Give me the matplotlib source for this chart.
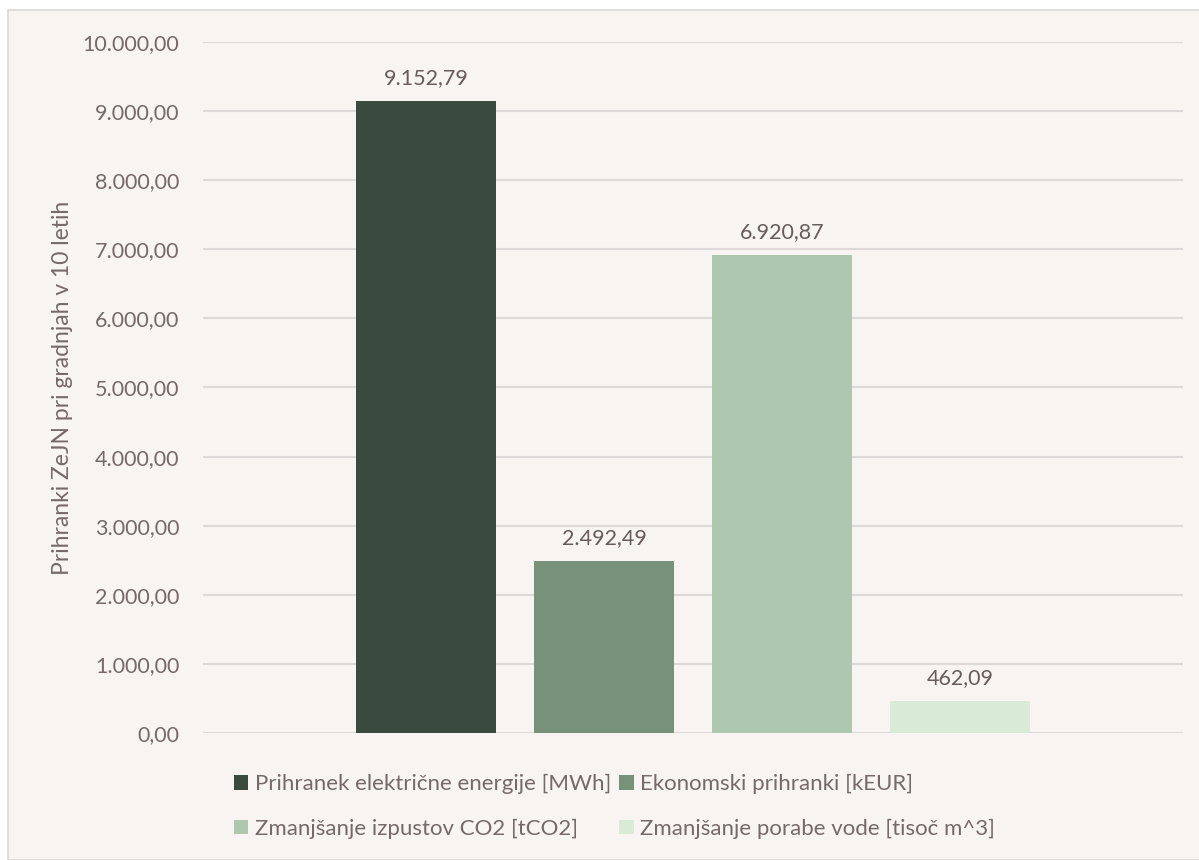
import matplotlib.pyplot as plt
from matplotlib.patches import Rectangle, Patch

# podatki
series = ['Prihranek električne energije [MWh]', 'Ekonomski prihranki [kEUR]',
          'Zmanjšanje izpustov CO2 [tCO2]', 'Zmanjšanje porabe vode [tisoč m^3]']
values = [9152.79, 2492.49, 6920.87, 462.09]
colors = ['#3B4A3F', '#78917B', '#AEC8AF', '#D9EBD6']
yticks = [0, 1000, 2000, 3000, 4000, 5000, 6000, 7000, 8000, 9000, 10000]

bg = '#F8F4F1'
txt = '#76696A'

def fmt(v):
    # slovenski zapis: 1.234,56
    return f'{v:,.2f}'.replace(',', 'X').replace('.', ',').replace('X', '.')

plt.rcParams['font.family'] = ['Lato', 'DejaVu Sans']

W, H = 1199, 860
fig = plt.figure(figsize=(W / 100, H / 100), dpi=100)
fig.patch.set_facecolor('white')
fig.patches.append(Rectangle((8 / W, 0), 1, 1 - 10 / H, transform=fig.transFigure,
                             facecolor=bg, edgecolor='#DCD8D5', linewidth=1.2, zorder=-10))

ax = fig.add_axes([203 / W, 1 - 733 / H, 980 / W, 691 / H])
ax.set_facecolor(bg)
ax.patch.set_alpha(0)

x = range(len(values))
ax.bar(x, values, width=0.787, color=colors, zorder=3)
for i, v in enumerate(values):
    ax.annotate(fmt(v), (i, v), xytext=(0, 9), textcoords='offset points',
                ha='center', va='bottom', fontsize=15.5, color='#675B5C')

ax.set_xlim(-1.253, 4.253)
ax.set_ylim(0, 10000)
ax.set_yticks(yticks)
ax.set_yticklabels([fmt(t) for t in yticks], fontsize=15.5, color=txt)
ax.set_xticks([])
ax.tick_params(axis='y', length=0, pad=17)
ax.grid(axis='y', color='#DDD9D8', linewidth=1.5, zorder=0)
for s in ax.spines.values():
    s.set_visible(False)
ax.set_ylabel('Prihranki ZeJN pri gradnjah v 10 letih', fontsize=16.5, color=txt, labelpad=7)

handles = [Patch(facecolor=c, label=s) for c, s in zip(colors, series)]
order = [0, 2, 1, 3]
fig.legend([handles[i] for i in order], [series[i] for i in order], ncol=2,
           loc='upper left', bbox_to_anchor=(234 / W, 1 - 774 / H), frameon=False,
           borderpad=0, borderaxespad=0,
           fontsize=16, labelcolor=txt, handlelength=0.65, handleheight=0.65,
           handletextpad=0.3, columnspacing=0.35, labelspacing=1.1)

fig.savefig('out.png', dpi=100, facecolor='white')
